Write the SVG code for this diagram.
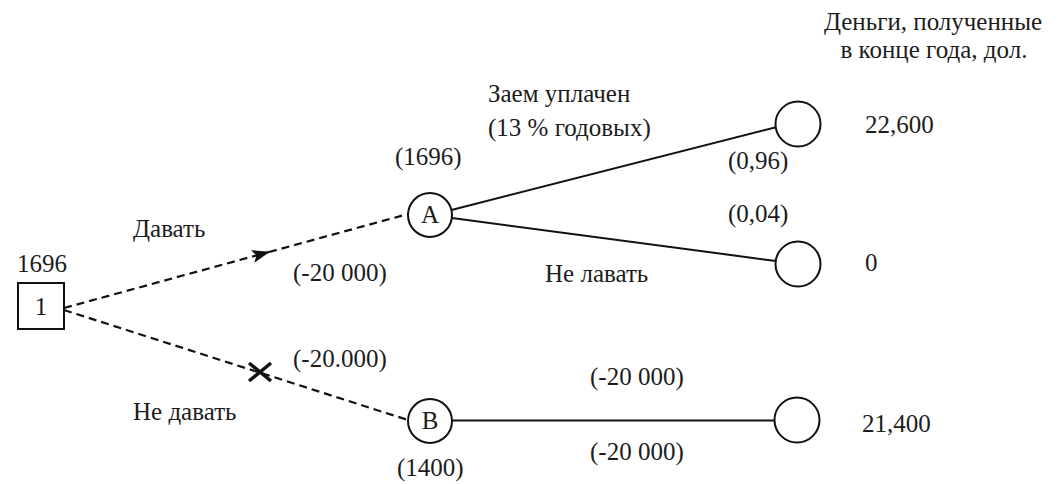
<svg xmlns="http://www.w3.org/2000/svg" width="1059" height="484" viewBox="0 0 1059 484">
<defs>
<style>
.t{font-family:'Liberation Serif','Times New Roman','DejaVu Serif',serif;font-size:25px;fill:#1c1c1c}
.node{fill:#fff;stroke:#111;stroke-width:2}
.solid{stroke:#111;stroke-width:2;fill:none}
.dash{stroke:#111;stroke-width:2.2;fill:none;stroke-dasharray:8 5}
.cross{stroke:#111;stroke-width:3.5;fill:none}
</style>
<marker id="arr" viewBox="0 0 18 13" refX="17" refY="6.5" markerWidth="18" markerHeight="13" markerUnits="userSpaceOnUse" orient="auto">
<path d="M0,0 L18,6.5 L0,13 L4,6.5 Z" fill="#111"/>
</marker>
</defs>
<rect width="1059" height="484" fill="#fff"/>
<g id="connectors">
<path class="dash" d="M64,308 L269,252" marker-end="url(#arr)"/>
<path class="dash" d="M269,252 L408,214"/>
<path class="dash" d="M64,310 L408,420"/>
<path class="cross" d="M249,363 L271,381 M249,381 L271,363"/>
<path class="solid" d="M451.5,210 L777,127"/>
<path class="solid" d="M452,218 L776,261"/>
<path class="solid" d="M452,420.5 L775,420.5"/>
</g>
<g id="node-1">
<rect class="node" x="18" y="283" width="46" height="46"/>
<text class="t" x="41" y="315" text-anchor="middle">1</text>
<text class="t" x="17" y="272">1696</text>
</g>
<g id="node-A">
<circle class="node" cx="430" cy="215" r="22"/>
<text class="t" x="430" y="223" text-anchor="middle">A</text>
<text class="t" x="395" y="165">(1696)</text>
</g>
<g id="node-B">
<circle class="node" cx="430" cy="421" r="22"/>
<text class="t" x="430" y="429" text-anchor="middle">B</text>
<text class="t" x="397" y="476">(1400)</text>
</g>
<g id="node-T1">
<circle class="node" cx="798" cy="124" r="22.5"/>
<text class="t" x="865" y="133">22,600</text>
</g>
<g id="node-T2">
<circle class="node" cx="798" cy="264" r="22.5"/>
<text class="t" x="865" y="271">0</text>
</g>
<g id="node-T3">
<circle class="node" cx="797" cy="420" r="22.5"/>
<text class="t" x="862" y="432">21,400</text>
</g>
<g id="labels">
<text class="t" x="933" y="30" text-anchor="middle">Деньги, полученные</text>
<text class="t" x="934" y="58" text-anchor="middle">в конце года, дол.</text>
<text class="t" x="488" y="102">Заем уплачен</text>
<text class="t" x="488" y="136">(13 % годовых)</text>
<text class="t" x="728" y="169">(0,96)</text>
<text class="t" x="728" y="222">(0,04)</text>
<text class="t" x="133" y="237">Давать</text>
<text class="t" x="293" y="281">(-20 000)</text>
<text class="t" x="545" y="282">Не лавать</text>
<text class="t" x="293" y="367">(-20.000)</text>
<text class="t" x="133" y="420">Не давать</text>
<text class="t" x="590" y="385">(-20 000)</text>
<text class="t" x="590" y="460">(-20 000)</text>
</g>
</svg>
